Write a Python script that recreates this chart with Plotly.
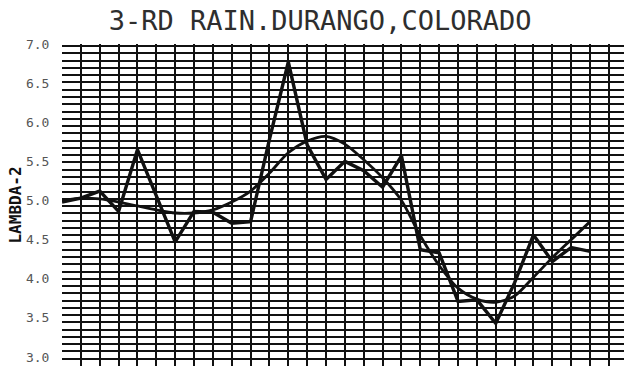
import plotly.graph_objects as go

title_text = "3-RD RAIN.DURANGO,COLORADO"
y_title = "LAMBDA-2"

# index along the record (one per vertical grid line)
idx = list(range(29))

observed = [4.98, 5.03, 5.12, 4.86, 5.65, 5.05, 4.47, 4.86, 4.85, 4.71,
            4.73, 5.78, 6.77, 5.71, 5.27, 5.50, 5.38, 5.17, 5.57, 4.37,
            4.33, 3.71, 3.73, 3.43, 3.95, 4.56, 4.22, 4.40, 4.35]

smoothed = [5.00, 5.03, 5.02, 4.98, 4.93, 4.88, 4.84, 4.84, 4.88, 4.98,
            5.12, 5.35, 5.61, 5.76, 5.82, 5.72, 5.52, 5.29, 5.00, 4.55,
            4.17, 3.88, 3.74, 3.70, 3.78, 4.02, 4.27, 4.50, 4.73]

y_ticks = [3.0, 3.5, 4.0, 4.5, 5.0, 5.5, 6.0, 6.5, 7.0]
y_tick_text = ["3.0", "3.5", "4.0", "4.5", "5.0", "5.5", "6.0", "6.5", "7.0"]

ink = "#111111"
mono = "DejaVu Sans Mono"

fig = go.Figure()
fig.add_trace(go.Scatter(x=idx, y=smoothed, mode="lines",
                         line=dict(color=ink, width=2.8, shape="spline", smoothing=0.8),
                         showlegend=False, hoverinfo="skip"))
fig.add_trace(go.Scatter(x=idx, y=observed, mode="lines",
                         line=dict(color=ink, width=3.4),
                         showlegend=False, hoverinfo="skip"))

y_bottom = 2.885
fig.update_layout(
    width=624, height=369,
    margin=dict(l=62, r=0, t=44, b=3),
    paper_bgcolor="white", plot_bgcolor="white",
    title=dict(text=title_text, x=0.513, xanchor="center", y=0.943, yanchor="middle",
               font=dict(family=mono, size=27, color="#2e2e2e")),
    xaxis=dict(range=[0, 29.8], dtick=1, tick0=0, showgrid=True,
               gridcolor=ink, gridwidth=2.4, showticklabels=False, ticks="",
               zeroline=False, showline=False),
    yaxis=dict(range=[y_bottom, 7.0], tickvals=y_ticks, ticktext=y_tick_text,
               showgrid=False, zeroline=False, showline=False,
               ticks="outside", ticklen=9, tickcolor="rgba(0,0,0,0)",
               tickfont=dict(family=mono, size=13, color="#555555"),
               minor=dict(tick0=y_bottom, dtick=0.0929, showgrid=True,
                          gridcolor=ink, gridwidth=1.8, ticks=""),
               title=dict(text=y_title, standoff=0,
                          font=dict(family=mono, size=16, color="#111111",
                                    weight="bold"))),
)

fig.write_html("out.html")
